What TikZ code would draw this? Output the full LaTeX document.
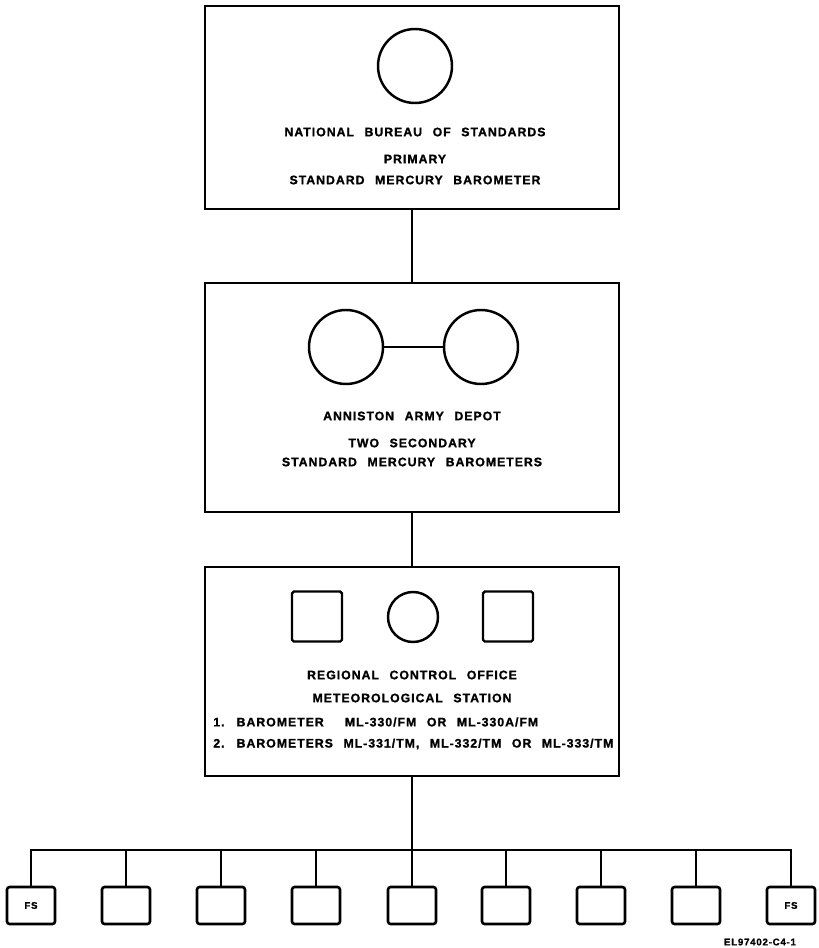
\documentclass[tikz,border=0pt]{standalone}
\usepackage{fontspec}
\setmainfont{Liberation Sans}
\newfontfamily\letterfont{Liberation Sans Bold}[LetterSpace=8, WordSpace=2.4, FakeBold=1.2]
\usetikzlibrary{positioning}
\tikzset{
    stageBox/.style={
        draw=black, fill=white, line width=1.5pt, minimum width=8.28cm, inner sep=0pt
    },
    baroCircle/.style={
        circle, draw=black, line width=1.4pt, minimum size=1.48cm, inner sep=0pt
    },
    smallCircle/.style={
        baroCircle, minimum size=1.0cm
    },
    baroSquare/.style={
        draw=black, line width=1.4pt, minimum size=1.0cm, inner sep=0pt, rounded corners=1pt
    },
    stationBox/.style={
        draw=black, fill=white, line width=1.5pt, minimum width=0.96cm, minimum height=0.74cm, inner sep=0pt, rounded corners=1.5pt, font=\letterfont\fontsize{5.5}{6}\selectfont
    },
    stageText/.style={
        inner sep=0pt, font=\letterfont\fontsize{7}{8}\selectfont
    },
    link/.style={
        line width=1.5pt, draw=black
    }
}
\begin{document}
\begin{tikzpicture}
    \useasboundingbox (0, 0) rectangle (16.36, -18.96);

    % ── STAGE 1: PRIMARY STANDARD
    \node[stageBox, minimum height=4.06cm] (nbs) at (8.24, -2.15) {};
    \node[baroCircle] (nbsBaro) at (8.30, -1.32) {};
    \node[stageText] (nbsName) at (8.30, -2.64) {NATIONAL BUREAU OF STANDARDS};
    \node[stageText] (nbsRank) at (8.30, -3.18) {PRIMARY};
    \node[stageText] (nbsType) at (8.30, -3.60) {STANDARD MERCURY BAROMETER};

    % ── STAGE 2: SECONDARY STANDARDS
    \node[stageBox, minimum height=4.58cm] (aad) at (8.24, -7.95) {};
    \node[baroCircle] (aadBaroL) at (6.92, -6.94) {};
    \node[baroCircle] (aadBaroR) at (9.62, -6.94) {};
    \node[stageText] (aadName) at (8.24, -8.32) {ANNISTON ARMY DEPOT};
    \node[stageText] (aadRank) at (8.24, -8.86) {TWO SECONDARY};
    \node[stageText] (aadType) at (8.24, -9.24) {STANDARD MERCURY BAROMETERS};

    % ── STAGE 3: REGIONAL CONTROL OFFICE
    \node[stageBox, minimum height=4.18cm] (rco) at (8.24, -13.43) {};
    \node[baroSquare] (rcoBaroL) at (6.34, -12.33) {};
    \node[smallCircle] (rcoBaroC) at (8.26, -12.34) {};
    \node[baroSquare] (rcoBaroR) at (10.16, -12.33) {};
    \node[stageText] (rcoName) at (8.24, -13.50) {REGIONAL CONTROL OFFICE};
    \node[stageText] (rcoStation) at (8.24, -13.96) {METEOROLOGICAL STATION};
    \node[stageText, anchor=west] (rcoItemA) at (4.26, -14.44) {1. BAROMETER \ ML-330/FM OR ML-330A/FM};
    \node[stageText, anchor=west] (rcoItemB) at (4.26, -14.88) {2. BAROMETERS ML-331/TM, ML-332/TM OR ML-333/TM};

    % ── STAGE 4: FIELD STATIONS
    \node[stationBox] (st1) at (0.62, -18.11) {FS};
    \node[stationBox] (st2) at (2.52, -18.11) {};
    \node[stationBox] (st3) at (4.42, -18.11) {};
    \node[stationBox] (st4) at (6.32, -18.11) {};
    \node[stationBox] (st5) at (8.24, -18.11) {};
    \node[stationBox] (st6) at (10.12, -18.11) {};
    \node[stationBox] (st7) at (12.02, -18.11) {};
    \node[stationBox] (st8) at (13.92, -18.11) {};
    \node[stationBox] (st9) at (15.82, -18.11) {FS};
    \coordinate (busJoin) at (8.24, -17.0);

    % Connections
    \draw[link] (aadBaroL.east) -- (aadBaroR.west);
    \draw[link] (nbs.south) -- (aad.north);
    \draw[link] (aad.south) -- (rco.north);
    \draw[link] (rco.south) -- (busJoin);
    \draw[link] (st1.north) |- (busJoin) -| (st9.north);
    \draw[link] (st2.north) -- (st2.north |- busJoin);
    \draw[link] (st3.north) -- (st3.north |- busJoin);
    \draw[link] (st4.north) -- (st4.north |- busJoin);
    \draw[link] (st5.north) -- (busJoin);
    \draw[link] (st6.north) -- (st6.north |- busJoin);
    \draw[link] (st7.north) -- (st7.north |- busJoin);
    \draw[link] (st8.north) -- (st8.north |- busJoin);

    % Drawing number
    \node[stageText, font=\letterfont\fontsize{5.5}{6}\selectfont] (figRef) at (15.2, -18.84) {EL97402-C4-1};
\end{tikzpicture}
\end{document}
